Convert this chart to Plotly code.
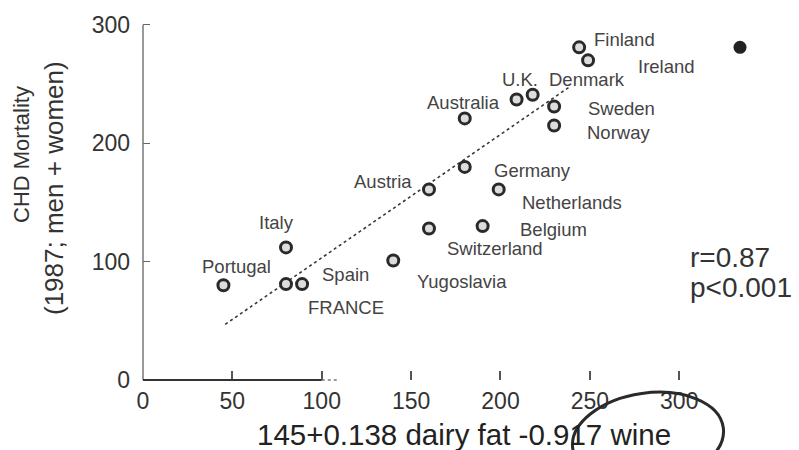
import math
import plotly.graph_objects as go

# Country data: x = 145 + 0.138*dairy fat - 0.917*wine, y = CHD mortality (1987)
countries = ["Portugal", "Italy", "FRANCE", "Spain", "Yugoslavia", "Switzerland",
             "Austria", "Belgium", "Germany", "Netherlands", "Australia", "U.K.",
             "Denmark", "Sweden", "Norway", "Finland", "Ireland"]
score = [45, 80, 80, 89, 140, 160, 160, 190, 180, 199, 180, 209, 218, 230, 230, 244, 249]
mortality = [80, 112, 81, 81, 101, 128, 161, 130, 180, 161, 221, 237, 241, 231, 215, 281, 270]

# Label anchor positions (left edge, vertical middle) in data units
label_x = [32, 64, 91, 99, 152, 169, 117, 210, 195, 211, 158, 200, 226, 248, 247, 251, 276]
label_y = [96, 133, 61, 89, 83, 111, 168, 127, 177, 150, 234, 254, 254, 229, 209, 288, 265]

# Outlying point drawn as a filled dot
outlier_x = [334]
outlier_y = [281]

# Regression line end points
fit_x = [46, 239]
fit_y = [47, 248]

x_ticks = [0, 50, 100, 150, 200, 250, 300]
y_ticks = [0, 100, 200, 300]

W, H = 799, 450
ML, MR, MT, MB = 143, 0, 0, 70
X_RANGE = [0, 367]
Y_RANGE = [0, 321]
FONT = "Liberation Sans, Arial, sans-serif"
INK = "#333333"

fig = go.Figure()

fig.add_trace(go.Scatter(
    x=fit_x, y=fit_y, mode="lines",
    line=dict(color="#3a3a3a", width=1.6, dash="dot"),
    hoverinfo="skip", showlegend=False,
))

fig.add_trace(go.Scatter(
    x=score, y=mortality, mode="markers",
    marker=dict(symbol="circle", size=11, color="#dddddd",
                line=dict(color="#2a2a2a", width=3)),
    text=countries, showlegend=False,
))

fig.add_trace(go.Scatter(
    x=outlier_x, y=outlier_y, mode="markers",
    marker=dict(symbol="circle", size=13, color="#222222"),
    showlegend=False,
))

for name, lx, ly in zip(countries, label_x, label_y):
    fig.add_annotation(x=lx, y=ly, xref="x", yref="y", text=name,
                       showarrow=False, xanchor="left", yanchor="middle",
                       font=dict(family=FONT, size=18.5, color="#444444"))

plot_w = W - ML - MR
plot_h = H - MT - MB


def px_to_paper(px, py):
    return (px - ML) / plot_w, (H - MB - py) / plot_h


# Axis lines: full-height y axis, partial (fading) x axis
fig.add_shape(type="line", xref="paper", yref="y", x0=0, x1=0, y0=0, y1=300,
              line=dict(color="#777777", width=1.5))
fig.add_shape(type="line", xref="x", yref="paper", x0=0, x1=100, y0=0, y1=0,
              line=dict(color="#333333", width=2))
fig.add_shape(type="line", xref="x", yref="paper", x0=100, x1=110, y0=0, y1=0,
              line=dict(color="#777777", width=1.5, dash="dot"))

# Axis titles and statistics
tx, ty = px_to_paper(464, 434)
fig.add_annotation(x=tx, y=ty, xref="paper", yref="paper",
                   text="145+0.138 dairy fat -0.917 wine", showarrow=False,
                   xanchor="center", yanchor="middle",
                   font=dict(family=FONT, size=29.5, color="#222222"))
tx, ty = px_to_paper(21, 155)
fig.add_annotation(x=tx, y=ty, xref="paper", yref="paper", text="CHD Mortality",
                   textangle=-90, showarrow=False, xanchor="center", yanchor="middle",
                   font=dict(family=FONT, size=22, color=INK))
tx, ty = px_to_paper(54, 188)
fig.add_annotation(x=tx, y=ty, xref="paper", yref="paper", text="(1987; men + women)",
                   textangle=-90, showarrow=False, xanchor="center", yanchor="middle",
                   font=dict(family=FONT, size=26, color=INK))
tx, ty = px_to_paper(688, 257)
fig.add_annotation(x=tx, y=ty, xref="paper", yref="paper", text="r=0.87",
                   showarrow=False, xanchor="left", yanchor="middle",
                   font=dict(family=FONT, size=28, color=INK))
tx, ty = px_to_paper(688, 287)
fig.add_annotation(x=tx, y=ty, xref="paper", yref="paper", text="p<0.001",
                   showarrow=False, xanchor="left", yanchor="middle",
                   font=dict(family=FONT, size=28, color=INK))

# Hand-drawn style ellipse around the wine coefficient
cx, cy, rx, ry, rot = 648, 438, 76, 45, math.radians(-8)
k = 0.5523


def ell(u, v):
    px = cx + u * math.cos(rot) - v * math.sin(rot)
    py = cy + u * math.sin(rot) + v * math.cos(rot)
    return px_to_paper(px, py)


ctrl = [
    [(rx, 0), (rx, k * ry), (k * rx, ry), (0, ry)],
    [(0, ry), (-k * rx, ry), (-rx, k * ry), (-rx, 0)],
    [(-rx, 0), (-rx, -k * ry), (-k * rx, -ry), (0, -ry)],
    [(0, -ry), (k * rx, -ry), (rx, -k * ry), (rx, 0)],
]
p0 = ell(*ctrl[0][0])
path = f"M {p0[0]:.5f},{p0[1]:.5f}"
for seg in ctrl:
    c1, c2, e = ell(*seg[1]), ell(*seg[2]), ell(*seg[3])
    path += f" C {c1[0]:.5f},{c1[1]:.5f} {c2[0]:.5f},{c2[1]:.5f} {e[0]:.5f},{e[1]:.5f}"
fig.add_shape(type="path", xref="paper", yref="paper", path=path,
              line=dict(color="#2a2a2a", width=3))

fig.update_layout(
    width=W, height=H,
    margin=dict(l=ML, r=MR, t=MT, b=MB, pad=0),
    paper_bgcolor="white", plot_bgcolor="white",
    showlegend=False,
    font=dict(family=FONT, color=INK),
    xaxis=dict(range=X_RANGE, tickvals=x_ticks, ticktext=[str(v) for v in x_ticks],
               ticks="inside", ticklen=9, tickwidth=1.5, tickcolor="#555555",
               showgrid=False, zeroline=False, showline=False,
               ticklabelstandoff=5,
               tickfont=dict(family=FONT, size=23, color="#333333")),
    yaxis=dict(range=Y_RANGE, tickvals=y_ticks, ticktext=[str(v) for v in y_ticks],
               ticks="inside", ticklen=7, tickwidth=1.2, tickcolor="#666666",
               showgrid=False, zeroline=False, showline=False,
               ticklabelstandoff=12,
               tickfont=dict(family=FONT, size=23, color="#333333")),
)

fig.write_html("out.html")
